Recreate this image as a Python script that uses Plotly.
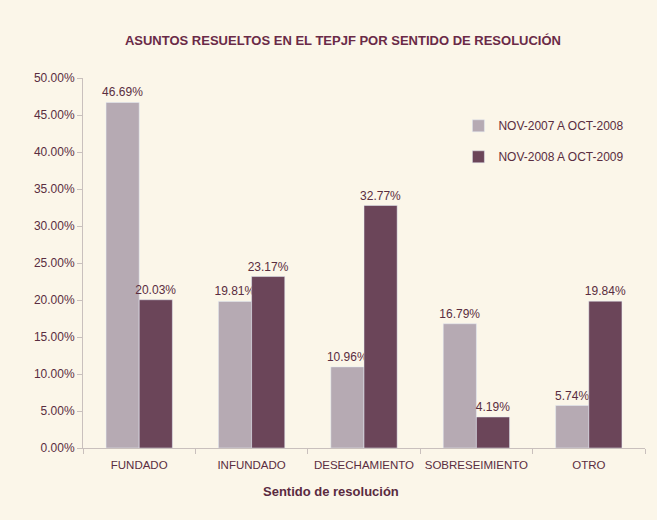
import plotly.graph_objects as go

categories = ["FUNDADO", "INFUNDADO", "DESECHAMIENTO", "SOBRESEIMIENTO", "OTRO"]
series_names = ["NOV-2007 A OCT-2008", "NOV-2008 A OCT-2009"]
values_2008 = [0.4669, 0.1981, 0.1096, 0.1679, 0.0574]
values_2009 = [0.2003, 0.2317, 0.3277, 0.0419, 0.1984]
y_ticks = [i * 0.05 for i in range(11)]

BG = "#FBF6E9"
TEXT = "#5A2D40"
FONT = "Liberation Sans, Arial, sans-serif"

fig = go.Figure()
for i, (name, vals, color) in enumerate([
    (series_names[0], values_2008, "#B6AAB3"),
    (series_names[1], values_2009, "#6B4559"),
]):
    fig.add_bar(
        name=name, x=categories, y=vals, marker_color=color,
        legendgroup=f"g{i}",
        texttemplate="%{y:.2%}", textposition="outside", constraintext="none",
        textfont=dict(size=12, color=TEXT), cliponaxis=False,
    )

fig.update_layout(
    width=657, height=520,
    paper_bgcolor=BG, plot_bgcolor=BG,
    font=dict(family=FONT, color=TEXT, size=12),
    title=dict(text="<b>ASUNTOS RESUELTOS EN EL TEPJF POR SENTIDO DE RESOLUCIÓN</b>",
               x=0.522, xanchor="center", y=0.923, yanchor="middle",
               font=dict(size=13, color="#6A2A47")),
    barmode="group", bargap=0.41, bargroupgap=0,
    margin=dict(l=83, r=12, t=78, b=72, autoexpand=False),
    legend=dict(x=0.668, y=0.91, xanchor="left", yanchor="top",
                bgcolor="rgba(0,0,0,0)", font=dict(size=12, color=TEXT),
                tracegroupgap=12, traceorder="grouped", itemwidth=30),
    showlegend=True,
    annotations=[dict(text="<b>Sentido de resolución</b>", xref="paper", yref="paper",
                      x=0.441, y=-0.118, xanchor="center", yanchor="middle", showarrow=False,
                      font=dict(size=13, color="#5A2A40"))],
)
fig.update_xaxes(
    showline=True, linecolor="#C9C0BD", ticks="outside", tickson="boundaries",
    tickcolor="#C9C0BD", ticklen=5, showgrid=False, tickangle=0,
    tickfont=dict(size=11.5), automargin=False, ticklabelstandoff=6,
)
fig.update_yaxes(
    range=[0, 0.5], tickvals=y_ticks, tickformat=".2%",
    showline=True, linecolor="#C9C0BD", ticks="outside", tickcolor="#C9C0BD",
    ticklen=5, showgrid=False, zeroline=False, automargin=False,
)

fig.write_html("out.html", config={"displayModeBar": False},
               post_script="document.body.style.margin='0';")
